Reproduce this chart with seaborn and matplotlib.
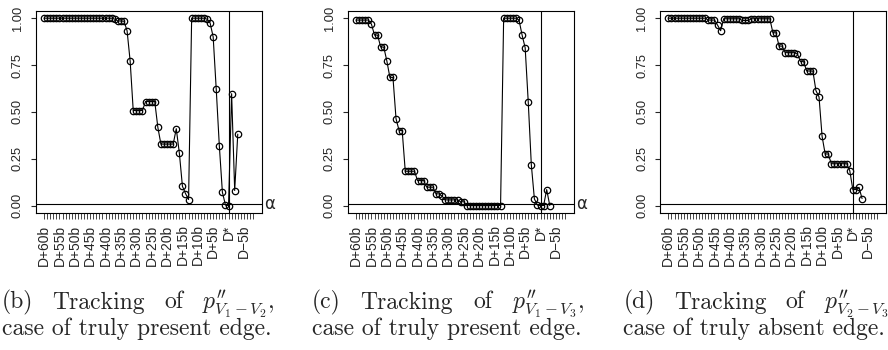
import numpy as np
import pandas as pd
import seaborn as sns
import matplotlib.pyplot as plt

# steps before the change point D* (60 = D+60b ... -3 = D-3b)
steps = list(range(60, -4, -1))

p_v1_v2 = [1.0] * 23 + [0.995, 0.985, 0.985, 0.984, 0.933, 0.771] + [0.507] * 4 + [0.555] * 4 + \
    [0.418] + [0.328] * 5 + [0.41, 0.28, 0.103, 0.064, 0.032] + [1.0] * 5 + \
    [0.995, 0.975, 0.90, 0.62, 0.32, 0.071, 0.002, 0.0, 0.597, 0.08, 0.381]

p_v1_v3 = [0.99] * 5 + [0.968, 0.91, 0.91, 0.846, 0.846, 0.773, 0.684, 0.684, 0.463, 0.40, 0.40] + \
    [0.183] * 4 + [0.133] * 3 + [0.098] * 3 + [0.062, 0.062, 0.05] + [0.03] * 5 + [0.02, 0.02] + \
    [0.0] * 12 + [1.0] * 5 + [0.99, 0.91, 0.842, 0.553, 0.218, 0.035, 0.002, 0.0, 0.0, 0.085, 0.0]

p_v2_v3 = [1.0] * 13 + [0.99] * 3 + [0.963, 0.933] + [0.997] * 6 + [0.988] * 3 + [0.997] * 7 + \
    [0.922, 0.922, 0.851, 0.851] + [0.816] * 4 + [0.808, 0.768, 0.768] + [0.718] * 3 + \
    [0.613, 0.58, 0.369, 0.275, 0.275] + [0.223] * 6 + [0.186, 0.085, 0.085, 0.097, 0.037]

alpha = 0.01

tick_steps = list(range(60, -9, -1))
tick_text = {s: "D+%db" % s for s in range(60, 4, -5)}
tick_text[0] = "D*"
tick_text[-5] = "D\u22125b"

panels = [
    (p_v1_v2, "(b)", r"$p^{\prime\prime}_{V_1-V_2}$,", "case of truly present edge."),
    (p_v1_v3, "(c)", r"$p^{\prime\prime}_{V_1-V_3}$,", "case of truly present edge."),
    (p_v2_v3, "(d)", r"$p^{\prime\prime}_{V_2-V_3}$,", "case of truly absent edge."),
]

sns.set_style("ticks")
plt.rcParams["font.family"] = ["Liberation Sans", "DejaVu Sans"]
plt.rcParams["mathtext.fontset"] = "cm"

W, H = 888, 350
fig = plt.figure(figsize=(W / 100, H / 100), dpi=100)
renderer = fig.canvas.get_renderer()

ax_left = [35.7, 347.7, 660.0]
ax_w, ax_top, ax_bot = 225.8, 10.7, 213.0
cap_left = [1.7, 311.7, 623.3]
cap_w = 273.0
cap_kw = dict(family="cmr10", fontsize=17, va="baseline", ha="left")


def justify(words, x0, width, ybase):
    # place words spread over [x0, x0 + width] like a justified LaTeX line
    texts = [fig.text(x0 / W, 1 - ybase / H, w, **cap_kw) for w in words]
    widths = [t.get_window_extent(renderer).width for t in texts]
    gap = (width - sum(widths)) / (len(words) - 1)
    x = x0
    for t, w in zip(texts, widths):
        t.set_x(x / W)
        x += w + gap


for i, (vals, tag, sym, line2) in enumerate(panels):
    ax = fig.add_axes([ax_left[i] / W, 1 - ax_bot / H, ax_w / W, (ax_bot - ax_top) / H])
    df = pd.DataFrame({"pos": [60 - s for s in steps], "p": vals})
    sns.lineplot(data=df, x="pos", y="p", ax=ax, color="black", lw=0.8,
                 marker="o", markersize=4.6, markerfacecolor="none",
                 markeredgecolor="black", markeredgewidth=0.9)
    ax.axvline(60, color="black", lw=0.8)
    ax.axhline(alpha, color="black", lw=0.8)
    ax.text(1.01, alpha, "\u03b1", transform=ax.get_yaxis_transform(),
            ha="left", va="center", fontsize=12, family="DejaVu Sans")

    ax.set_xlim(-2.72, 70.72)
    ax.set_ylim(-0.04, 1.04)
    ax.set_xticks([60 - s for s in tick_steps])
    ax.set_xticklabels([tick_text.get(s, "") for s in tick_steps], rotation=90, fontsize=10)
    ax.set_yticks([0, 0.25, 0.5, 0.75, 1.0])
    ax.set_yticklabels(["0.00", "0.25", "0.50", "0.75", "1.00"], rotation=90, va="center", fontsize=9.3)
    ax.tick_params(axis="x", length=4.2, width=0.6, pad=4)
    ax.tick_params(axis="y", length=3.5, width=0.8, pad=5)
    ax.set_xlabel("")
    ax.set_ylabel("")
    for sp in ax.spines.values():
        sp.set_visible(True)
        sp.set_linewidth(0.8)
        sp.set_color("black")

    # caption: first line justified, last line at natural spacing
    justify([tag, "Tracking", "of", sym], cap_left[i], cap_w, 308.5)
    fig.text(cap_left[i] / W, 1 - 335.5 / H, line2, **cap_kw)

fig.savefig("out.png", dpi=100)
